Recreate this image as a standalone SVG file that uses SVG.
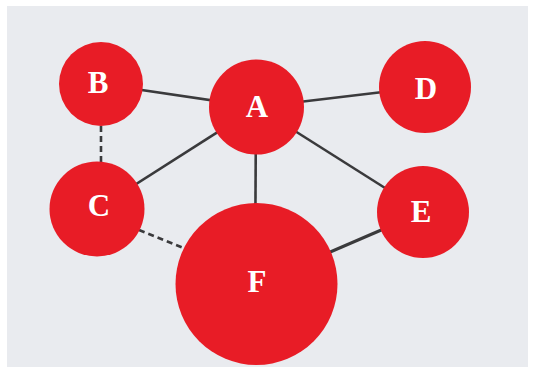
<svg xmlns="http://www.w3.org/2000/svg" width="537" height="367" viewBox="0 0 537 367">
<style>
.edge{stroke:#3a3a3c;stroke-width:2.6;fill:none;stroke-linecap:butt}
.dash{stroke-dasharray:6,4}
.node circle{fill:#e81c26}
.node text{font-family:"Liberation Serif","Times New Roman",serif;font-weight:bold;font-size:31px;fill:#ffffff;text-anchor:middle}
</style>
<rect x="0" y="0" width="537" height="367" fill="#ffffff"/>
<rect x="7" y="6" width="521" height="361" fill="#e9ebef"/>
<g id="connectors">
<line class="edge" x1="101" y1="84" x2="257" y2="107"/>
<line class="edge" x1="257" y1="107" x2="425" y2="87"/>
<line class="edge dash" x1="101" y1="126" x2="101" y2="164"/>
<line class="edge" x1="257" y1="107" x2="97" y2="209"/>
<line class="edge" x1="256" y1="107" x2="255" y2="284"/>
<line class="edge" x1="257" y1="107" x2="423" y2="212"/>
<line class="edge dash" x1="139" y1="230" x2="186" y2="249"/>
<line class="edge" x1="256" y1="284" x2="423" y2="212" style="stroke-width:3.2"/>
</g>
<g id="node-B" class="node"><circle cx="101" cy="84" r="42"/><text x="98" y="93">B</text></g>
<g id="node-A" class="node"><circle cx="256.5" cy="107" r="47.5"/><text x="257" y="117">A</text></g>
<g id="node-D" class="node"><circle cx="425" cy="87" r="46"/><text x="426" y="99">D</text></g>
<g id="node-C" class="node"><circle cx="97" cy="209" r="47.5"/><text x="99" y="216">C</text></g>
<g id="node-E" class="node"><circle cx="423" cy="212" r="46"/><text x="421" y="222">E</text></g>
<g id="node-F" class="node"><circle cx="256.5" cy="284" r="81"/><text x="257" y="292">F</text></g>
</svg>
